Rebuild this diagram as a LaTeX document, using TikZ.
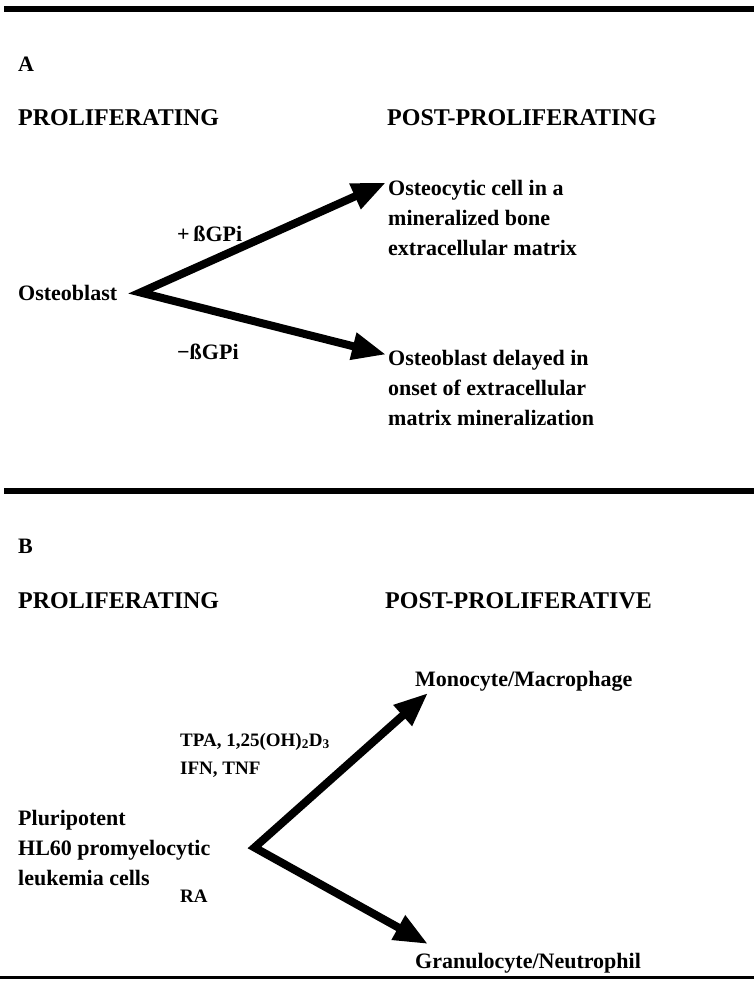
\documentclass[tikz,border=0pt]{standalone}
\usepackage{fontspec}
\setmainfont{Liberation Serif}
\usetikzlibrary{arrows.meta,positioning}

\begin{document}
\begin{tikzpicture}[x=1pt,y=-1pt,
		head node/.style={anchor=base west, inner sep=0pt, font=\bfseries\fontsize{24}{30}\selectfont},
		text node/.style={anchor=base west, inner sep=0pt, align=left, font=\bfseries\fontsize{22}{30}\selectfont},
		agent node/.style={anchor=base west, inner sep=0pt, align=left, font=\bfseries\fontsize{19}{28}\selectfont},
		rule line/.style={line width=6pt},
		branch/.style={line width=8pt, line join=miter, {Triangle[length=34pt,width=26pt]}-{Triangle[length=34pt,width=26pt]}}]

	\useasboundingbox (0,0) rectangle (754,981);

	% panel A
	\draw[rule line] (4,9) -- (754,9);
	\node[text node] (A) at (18,72) {A};
	\node[head node] (prolifA) at (18,126) {PROLIFERATING};
	\node[head node] (postA) at (387,126) {POST-PROLIFERATING};
	\node[text node] (osteoblast) at (18,300) {Osteoblast};
	\node[text node] (osteo) at (388,256) {Osteocytic cell in a\\mineralized bone\\extracellular matrix};
	\node[text node] (delay) at (388,425) {Osteoblast delayed in\\onset of extracellular\\matrix mineralization};
	\node[text node] (plus) at (177,242) {+\,ßGPi};
	\node[text node] (minus) at (177,359) {−ßGPi};
	\coordinate[right=23pt of osteoblast.east] (forkA);
	\coordinate (tipA1) at ([xshift=-2pt,yshift=-2pt]osteo.north west);
	\coordinate (tipA2) at ([xshift=-2pt,yshift=-5pt]delay.north west);
	\draw[branch] (tipA1) -- (forkA) -- (tipA2);

	% panel B
	\draw[rule line] (4,491) -- (754,491);
	\node[text node] (B) at (18,553) {B};
	\node[head node] (prolifB) at (18,608) {PROLIFERATING};
	\node[head node] (postB) at (385,608) {POST-PROLIFERATIVE};
	\node[text node] (pluri) at (18,885) {Pluripotent\\HL60 promyelocytic\\leukemia cells};
	\node[text node] (mono) at (415,686) {Monocyte/Macrophage};
	\node[text node] (gran) at (415,968) {Granulocyte/Neutrophil};
	\node[agent node] (tpa) at (180,774) {TPA, 1,25(OH)\textsubscript{2}D\textsubscript{3}\\IFN, TNF};
	\node[agent node] (ra) at (180,902) {RA};
	\coordinate[right=44pt of pluri.east] (forkB);
	\coordinate (tipB1) at ([xshift=13pt,yshift=-7pt]mono.base west);
	\coordinate (tipB2) at ([xshift=13pt,yshift=24pt]gran.base west);
	\draw[branch] (tipB1) -- (forkB) -- (tipB2);

	\draw[line width=3pt] (0,977) -- (754,977);
\end{tikzpicture}
\end{document}
